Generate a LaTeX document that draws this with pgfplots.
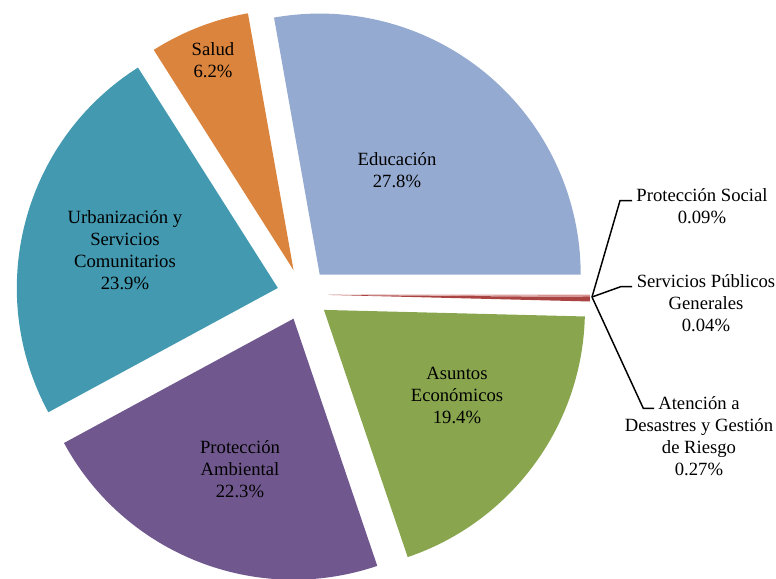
\documentclass[border=0pt]{standalone}
\usepackage{pgfplots}
\usepackage{pgfplotstable}
\pgfplotsset{compat=1.18}
\usetikzlibrary{calc}
\usepackage{fontspec}
\setmainfont{Liberation Serif}

\definecolor{cEdu}{RGB}{149,170,209}
\definecolor{cSal}{RGB}{219,132,61}
\definecolor{cUrb}{RGB}{66,153,176}
\definecolor{cAmb}{RGB}{112,88,142}
\definecolor{cEco}{RGB}{137,166,79}
\definecolor{cPS}{RGB}{214,150,148}
\definecolor{cSP}{RGB}{200,120,118}
\definecolor{cAD}{RGB}{170,68,66}

% slices in clockwise order, starting at 100.08 deg
\pgfplotstableread{
name value color
Educacion 27.8 cEdu
ProteccionSocial 0.09 cPS
ServiciosPublicos 0.04 cSP
AtencionDesastres 0.27 cAD
AsuntosEconomicos 19.4 cEco
ProteccionAmbiental 22.3 cAmb
Urbanizacion 23.9 cUrb
Salud 6.2 cSal
}\piedata

\begin{document}
\begin{tikzpicture}
\begin{axis}[
  name=ax,
  width=582pt, height=434.25pt, scale only axis,
  xmin=0, xmax=776, ymin=0, ymax=579,
  hide axis, ticks=none, clip=false,
  font=\fontsize{14}{16.5}\selectfont,
]
\pgfplotsextra{%
  \pgfmathsetmacro\curangle{100.08}%
  \pgfplotsforeachungrouped \i in {0,...,7}{%
    \pgfplotstablegetelem{\i}{value}\of\piedata\let\v=\pgfplotsretval%
    \pgfplotstablegetelem{\i}{color}\of\piedata\let\c=\pgfplotsretval%
    \pgfmathsetmacro\endangle{\curangle-3.6*\v}%
    \pgfmathsetmacro\midangle{(\curangle+\endangle)/2}%
    \fill[\c] ($(axis cs:303,284.5)+(\midangle:19.5pt)$) -- ++(\curangle:195.75pt)
       arc[start angle=\curangle, end angle=\endangle, radius=195.75pt] -- cycle;%
    \global\let\curangle=\endangle%
  }%
}%
% leader lines
\draw[black, line width=1.1pt] (axis cs:592,282) -- (axis cs:620,378.3) -- (axis cs:632,378.3);
\draw[black, line width=1.1pt] (axis cs:592,282) -- (axis cs:620.7,292.3) -- (axis cs:632,292.3);
\draw[black, line width=1.1pt] (axis cs:592,282) -- (axis cs:643.3,170.7) -- (axis cs:654,170.7);
% labels
\node[align=center] at (axis cs:397,409) {Educación\\27.8\%};
\node[align=center] at (axis cs:213,518.5) {Salud\\6.2\%};
\node[align=center] at (axis cs:125,329) {Urbanización y\\Servicios\\Comunitarios\\23.9\%};
\node[align=center] at (axis cs:240,110) {Protección\\Ambiental\\22.3\%};
\node[align=center] at (axis cs:457,184) {Asuntos\\Económicos\\19.4\%};
\node[align=center] at (axis cs:702,373) {Protección Social\\0.09\%};
\node[align=center] at (axis cs:706,276) {Servicios Públicos\\Generales\\0.04\%};
\node[align=center] at (axis cs:699,143) {Atención a\\Desastres y Gestión\\de Riesgo\\0.27\%};
\end{axis}
\pgfresetboundingbox
\path[use as bounding box] (ax.south west) rectangle (ax.north east);
\end{tikzpicture}
\end{document}
